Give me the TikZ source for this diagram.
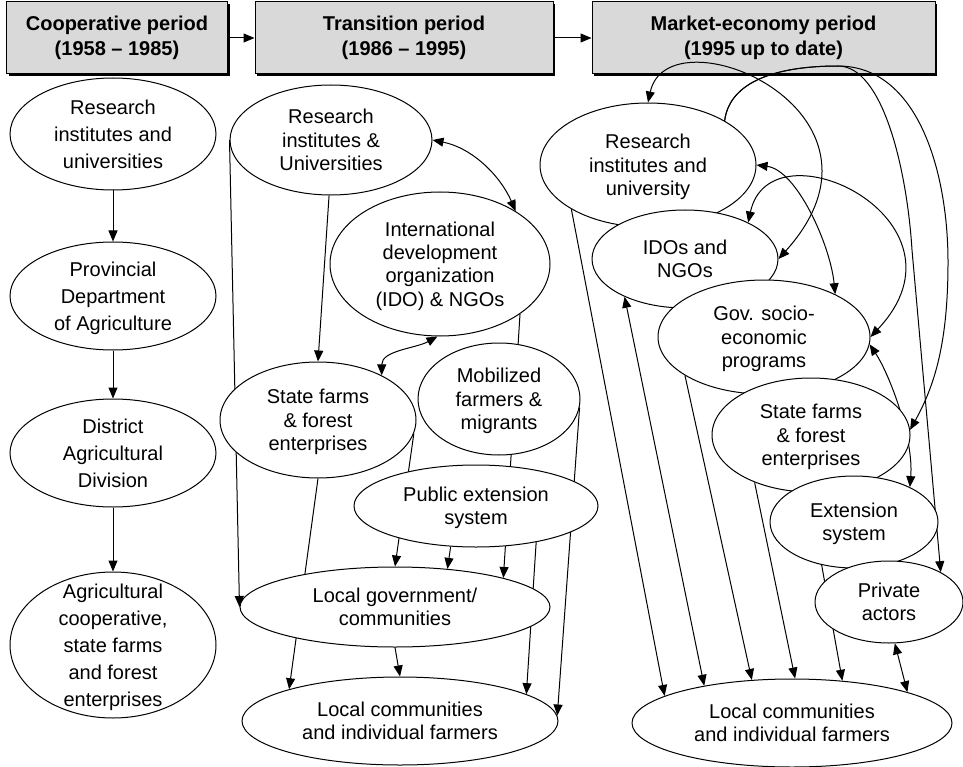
\documentclass[tikz,border=0pt]{standalone}
\usepackage{fontspec}
\setmainfont{Liberation Sans}
\usetikzlibrary{arrows.meta,shapes.geometric,shadows,backgrounds}
\pgfdeclarelayer{back}
\pgfsetlayers{back,background,main}
\definecolor{hdrgray}{RGB}{217,217,217}
\newcommand{\ctext}[1]{\smash{\raisebox{-0.38em}{\begin{tabular}{@{}c@{}}#1\end{tabular}}}}
\begin{document}
\begin{tikzpicture}[x=1pt,y=-1pt,
  ell/.style={ellipse,draw,fill=white,line width=1pt,inner sep=0pt,font=\fontsize{20}{23.3}\selectfont},
  elll/.style={ell,font=\fontsize{20}{27}\selectfont},
  hdr/.style={rectangle,draw,fill=hdrgray,line width=1pt,inner sep=0pt,align=center,
     font=\bfseries\fontsize{20}{25}\selectfont,
     drop shadow={shadow xshift=2pt,shadow yshift=-2pt,fill=black,opacity=1}},
  conn/.style={line width=1pt,-{Triangle[length=11pt,width=9pt]}},
  bi/.style={line width=1pt,{Triangle[length=11pt,width=9pt]}-{Triangle[length=11pt,width=9pt]}},
]
\useasboundingbox (0,0) rectangle (963,767);

% header boxes
\begin{pgfonlayer}{back}
\node[hdr,minimum width=221pt,minimum height=72pt] (H1) at (117,38) {Cooperative period\\(1958 -- 1985)};
\node[hdr,minimum width=298pt,minimum height=72pt] (H2) at (404,38) {Transition period\\(1986 -- 1995)};
\node[hdr,minimum width=343pt,minimum height=72pt] (H3) at (763.5,38) {Market-economy period\\(1995 up to date)};
\end{pgfonlayer}

% left column
\node[elll,minimum width=206pt,minimum height=112pt] (E1) at (113,134) {\ctext{Research\\institutes and\\universities}};
\node[elll,minimum width=206pt,minimum height=108pt] (E2) at (113,296) {\ctext{Provincial\\Department\\of Agriculture}};
\node[elll,minimum width=206pt,minimum height=108pt] (E3) at (113,453) {\ctext{District\\Agricultural\\Division}};
\node[elll,minimum width=206pt,minimum height=146pt] (E4) at (113,645) {\ctext{Agricultural\\cooperative,\\state farms\\and forest\\enterprises}};

% middle column
\node[ell,minimum width=202pt,minimum height=110pt] (M1) at (331,140) {\ctext{Research\\institutes \&\\Universities}};
\node[ell,minimum width=220pt,minimum height=144pt] (M2) at (440,264) {\ctext{International\\development\\organization\\(IDO) \& NGOs}};
\node[ell,minimum width=196pt,minimum height=116pt] (SF) at (318,420) {\ctext{State farms\\\& forest\\enterprises}};
\node[ell,minimum width=162pt,minimum height=112pt] (Mob) at (499,399) {\ctext{Mobilized\\farmers \&\\migrants}};
\node[ell,minimum width=244pt,minimum height=82pt] (PE) at (476,506) {\ctext{Public extension\\system}};
\node[ell,minimum width=310pt,minimum height=80pt] (LG) at (395,607) {\ctext{Local government/\\communities}};
\node[ell,minimum width=316pt,minimum height=88pt] (LC) at (400,721) {\ctext{Local communities\\and individual farmers}};

% right column
\node[ell,minimum width=216pt,minimum height=124pt] (R1) at (648,165) {\ctext{Research\\institutes and\\university}};
\node[ell,minimum width=186pt,minimum height=98pt] (R2) at (685,259) {\ctext{IDOs and\\NGOs}};
\node[ell,minimum width=212pt,minimum height=114pt] (R3) at (764,337) {\ctext{Gov. socio-\\economic\\programs}};
\node[ell,minimum width=198pt,minimum height=114pt] (R4) at (811,435) {\ctext{State farms\\\& forest\\enterprises}};
\node[ell,minimum width=168pt,minimum height=92pt] (R5) at (854,522) {\ctext{Extension\\system}};
\node[ell,minimum width=148pt,minimum height=82pt] (R6) at (889,602) {\ctext{Private\\actors}};
\node[ell,minimum width=320pt,minimum height=88pt] (R7) at (792,723) {\ctext{Local communities\\and individual farmers}};

\coordinate (pk) at (838,66);
\coordinate (wa) at (912,250);
\coordinate (wb) at (948,262);

\begin{pgfonlayer}{background}
% header arrows
\draw[conn] (H1.east) -- (H2.west);
\draw[conn] (H2.east) -- (H3.west);
% left column
\draw[conn] (E1) -- (E2);
\draw[conn] (E2) -- (E3);
\draw[conn] (E3) -- (E4);
% middle column
\draw[conn] (M1.west) -- (LG.west);
\draw[conn] (M1.268) -- (SF.north);
\draw[bi] (M1.east) .. controls +(40,8) and +(-15,-35) .. (M2.35);
\draw[bi] (SF.35) .. controls +(0,-25) and +(-22,12) .. (M2.268);
\draw[conn] (M2.-32) -- (LG.15);
\draw[conn] (SF.south) -- (LC.164);
\draw[conn] (SF.-8) -- (LG.north);
\draw[conn] (PE.238) -- (LG.36);
\draw[conn] (LG.south) -- (LC.north);
\draw[conn] (PE.-31) -- (LC.12);
\draw[conn] (Mob.-6) -- (LC.2);
% right column
\draw[bi] (R1.north) .. controls +(20,-93) and +(134,-149) .. (R2.east);
\draw[conn] (R1.30) .. controls +(5,-40) and +(-60,0) .. (pk) .. controls +(45,0) and +(-5,-80) .. (wa) -- (R6.30);
\draw[conn] (R1.30) .. controls +(5,-40) and +(-60,0) .. (pk) .. controls +(80,0) and +(0,-90) .. (wb) .. controls +(0,80) and +(25,-45) .. (R4.3);
\draw[bi] (R2.30) .. controls +(22,-103) and +(110,-117) .. (R3.east);
\draw[bi] (R3.-4) .. controls +(20,30) and +(4,-48) .. (R5.32);
\draw[bi] (R1.east) .. controls +(40,5) and +(-5,-50) .. (R3.31);
\draw[conn] (R1.210) -- (R7.168);
\draw[bi] (R2.212) -- (R7.157);
\draw[conn] (R3.206) -- (R7.133);
\draw[conn] (R4.220) -- (R7.86);
\draw[conn] (R5.233) -- (R7.40);
\draw[bi] (R6.278) -- (R7.15);
\end{pgfonlayer}
\end{tikzpicture}
\end{document}
